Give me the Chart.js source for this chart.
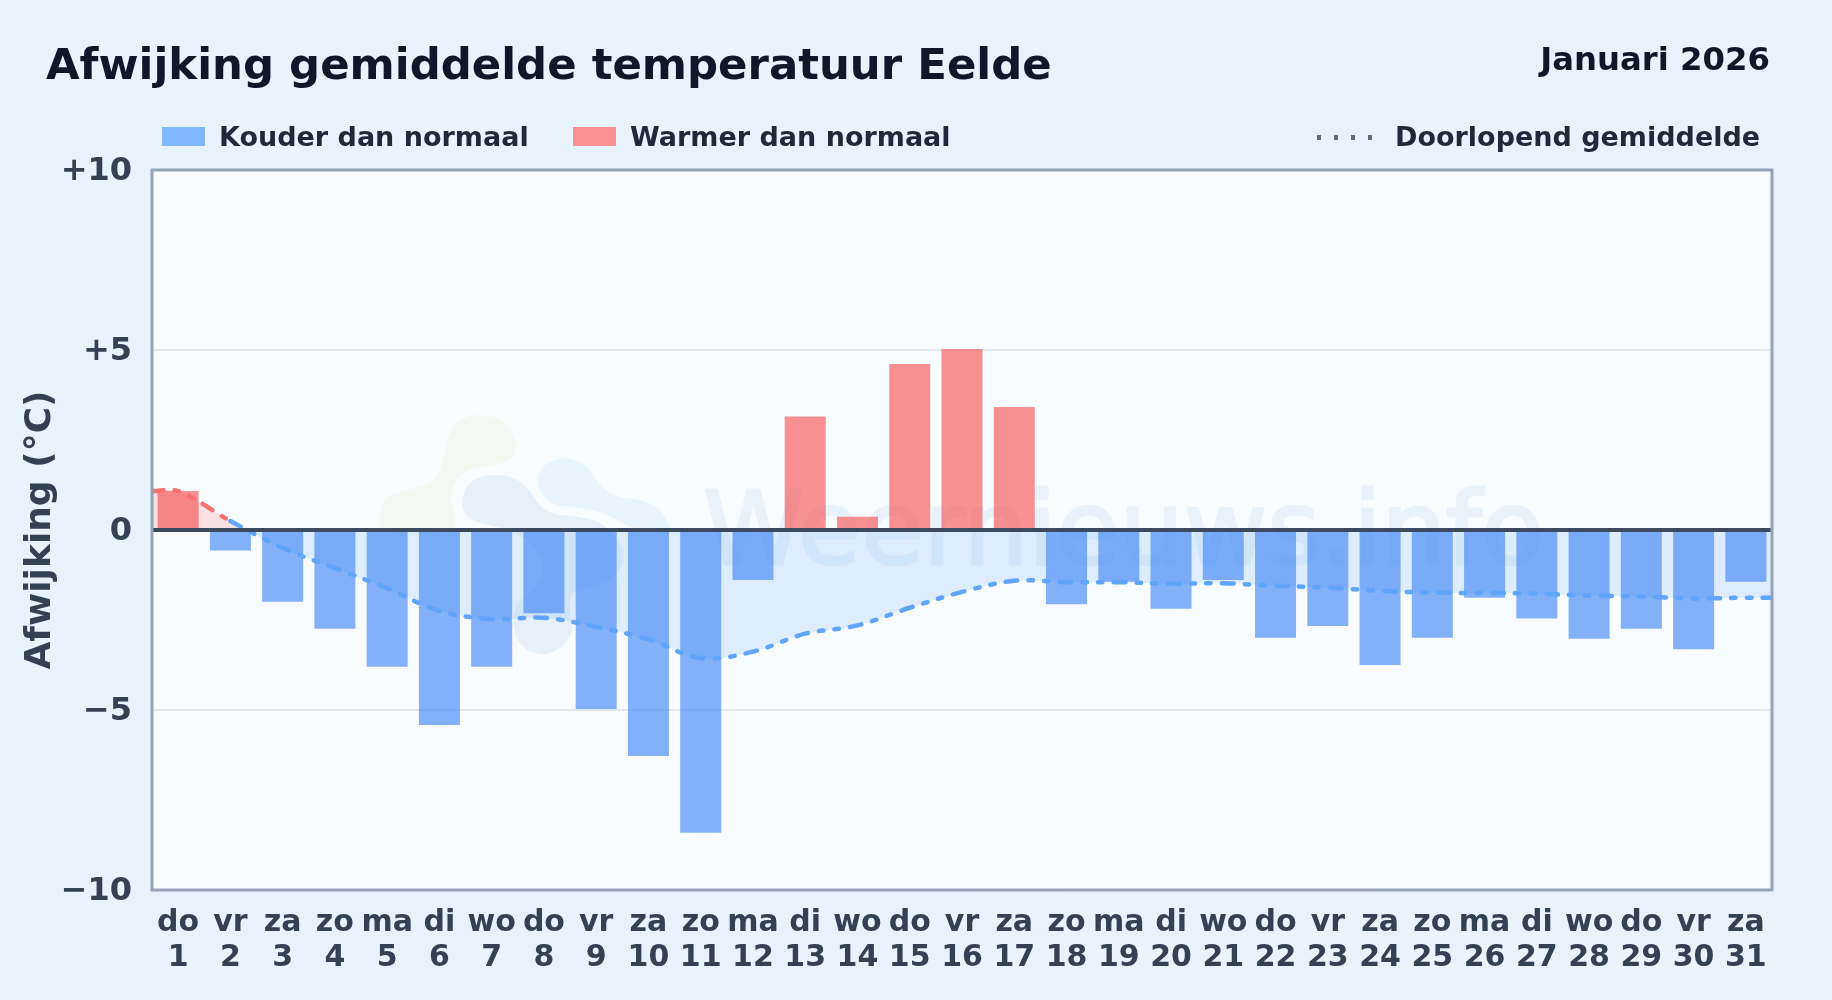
<!DOCTYPE html>
<html lang="nl">
<head>
<meta charset="utf-8">
<title>Afwijking gemiddelde temperatuur Eelde</title>
<script src="https://cdn.jsdelivr.net/npm/chart.js@4/dist/chart.umd.min.js"></script>
<style>
    html, body { margin: 0; padding: 0; }
    body {
        width: 1832px; height: 1000px; overflow: hidden; position: relative;
        background: linear-gradient(135deg, #e8f4fd 0%, #e7f2fc 50%, #eaf3fc 100%);
        font-family: "DejaVu Sans", sans-serif; font-weight: bold;
    }
    canvas { position: absolute; left: 0; top: 0; }
    .txt { position: absolute; white-space: nowrap; line-height: 1; }
    #title { left: 46px; top: 43px; font-size: 43.4px; color: #0f172a; }
    #month { right: 62px; top: 43px; font-size: 32.3px; color: #0f172a; }
    .leg { top: 123px; font-size: 27px; color: #1e293b; }
    .swatch { position: absolute; top: 127px; height: 19px; width: 43px; }
    #dots { position: absolute; left: 1317px; top: 135px; width: 58px; height: 4.5px;
        background: repeating-linear-gradient(90deg, #5b6b82 0 4px, transparent 4px 17px); }
</style>
</head>
<body>
<canvas id="graph" width="1832" height="1000"></canvas>
<div class="txt" id="title">Afwijking gemiddelde temperatuur Eelde</div>
<div class="txt" id="month">Januari 2026</div>
<div class="swatch" style="left:162px;background:#80b6fb"></div>
<div class="txt leg" style="left:219px">Kouder dan normaal</div>
<div class="swatch" style="left:573px;background:#f99192"></div>
<div class="txt leg" style="left:630px">Warmer dan normaal</div>
<div id="dots"></div>
<div class="txt leg" style="left:1395px">Doorlopend gemiddelde</div>
<script>
const WEEKDAYS = ['do','vr','za','zo','ma','di','wo','do','vr','za','zo','ma','di','wo','do','vr','za','zo','ma','di','wo','do','vr','za','zo','ma','di','wo','do','vr','za'];
const DAYS = [1,2,3,4,5,6,7,8,9,10,11,12,13,14,15,16,17,18,19,20,21,22,23,24,25,26,27,28,29,30,31];
const DEVIATION = [1.08,-0.57,-1.99,-2.74,-3.80,-5.42,-3.80,-2.31,-4.97,-6.28,-8.41,-1.39,3.15,0.37,4.61,5.03,3.42,-2.06,-1.44,-2.19,-1.39,-2.99,-2.67,-3.75,-2.99,-1.88,-2.46,-3.02,-2.74,-3.31,-1.44];
// running mean, with one extra point on each side so it reaches the plot edges
const AVG_X = [0.5,1,2,3,4,5,6,7,8,9,10,11,12,13,14,15,16,17,18,19,20,21,22,23,24,25,26,27,28,29,30,31,31.5];
const AVG_Y = [1.08,1.08,0.25,-0.50,-1.06,-1.62,-2.25,-2.47,-2.44,-2.69,-3.04,-3.56,-3.38,-2.88,-2.65,-2.16,-1.72,-1.41,-1.45,-1.45,-1.49,-1.48,-1.55,-1.60,-1.69,-1.74,-1.75,-1.77,-1.82,-1.85,-1.90,-1.88,-1.88];
const Y_TICKS = { '10': '+10', '5': '+5', '0': '0', '-5': '\u22125', '-10': '\u221210' };

const BLUE = 'rgba(59,130,246,0.62)';
const RED = 'rgba(246,72,72,0.6)';

// logo outlines, in pixels of a crop that starts at (360,390) and is 3x enlarged
const LOGO_GREEN = [[265,130],[300,85],[370,70],[440,95],[472,160],[460,210],[400,225],[330,235],[285,265],[268,330],[290,380],[280,430],[60,440],[60,360],[80,315],[200,285],[240,255]];
const LOGO_GREY = [[305,320],[330,270],[400,250],[470,265],[510,300],[535,345],[580,375],[650,378],[720,395],[770,440],[795,490],[775,560],[700,590],[640,600],[625,640],[645,720],[600,780],[540,798],[480,770],[455,700],[470,640],[520,600],[560,540],[520,460],[440,415],[350,400],[310,370]];
const LOGO_BLUE = [[530,260],[560,215],[620,200],[680,225],[710,275],[760,320],[840,328],[900,355],[930,410],[930,440],[800,410],[740,370],[650,352],[580,345],[540,310]];

function blob(ctx, color, outline) {
    const pts = outline.map(([x, y]) => [360 + x / 3, 390 + y / 3]);
    const mid = (a, b) => [(a[0] + b[0]) / 2, (a[1] + b[1]) / 2];
    ctx.fillStyle = color;
    ctx.beginPath();
    const start = mid(pts[pts.length - 1], pts[0]);
    ctx.moveTo(start[0], start[1]);
    pts.forEach((p, i) => {
        const m = mid(p, pts[(i + 1) % pts.length]);
        ctx.quadraticCurveTo(p[0], p[1], m[0], m[1]);
    });
    ctx.closePath();
    ctx.fill();
}

const plotBackground = {
    id: 'plotBackground',
    beforeDraw(chart) {
        const { ctx, chartArea: a } = chart;
        ctx.save();
        ctx.fillStyle = '#f8fcff';
        ctx.fillRect(a.left, a.top, a.width, a.height);
        // faint site logo and name behind the chart
        blob(ctx, '#f3f9f1', LOGO_GREEN);
        blob(ctx, '#e8f5fe', LOGO_BLUE);
        blob(ctx, '#e7f0f9', LOGO_GREY);
        ctx.fillStyle = '#e9f2fb';
        ctx.strokeStyle = '#e9f2fb';
        ctx.lineWidth = 3;
        ctx.lineJoin = 'round';
        ctx.font = '102px "DejaVu Sans"';
        ctx.textBaseline = 'alphabetic';
        ctx.strokeText('Weernieuws.info', 703, 564);
        ctx.fillText('Weernieuws.info', 703, 564);
        ctx.restore();
    }
};

const frame = {
    id: 'frame',
    afterDatasetsDraw(chart) {
        const { ctx, chartArea: a, scales } = chart;
        const zero = scales.y.getPixelForValue(0);
        ctx.save();
        ctx.strokeStyle = '#3b4a5f';
        ctx.lineWidth = 4;
        ctx.beginPath();
        ctx.moveTo(a.left, zero);
        ctx.lineTo(a.right, zero);
        ctx.stroke();
        ctx.strokeStyle = '#94a3b8';
        ctx.lineWidth = 3;
        ctx.strokeRect(a.left, a.top, a.width, a.height);
        ctx.restore();
    }
};

new Chart(document.getElementById('graph').getContext('2d'), {
    data: {
        datasets: [
            {
                type: 'line',
                order: 0,
                data: AVG_X.map((x, i) => ({ x, y: AVG_Y[i] })),
                borderColor: '#60a5fa',
                borderWidth: 4.5,
                borderDash: [11.5, 11.2, 4.5, 11.2, 4.5, 11.2],
                borderCapStyle: 'round',
                pointRadius: 0,
                tension: 0.35,
                fill: { target: { value: 0 }, above: 'rgba(248,113,113,0.2)', below: 'rgba(96,165,250,0.17)' },
                segment: { borderColor: c => c.p1DataIndex <= 2 ? '#f87171' : '#60a5fa' }
            },
            {
                type: 'bar',
                order: 1,
                data: DAYS.map((d, i) => ({ x: d, y: DEVIATION[i] })),
                backgroundColor: DEVIATION.map(v => v < 0 ? BLUE : RED),
                barPercentage: 0.785,
                categoryPercentage: 1
            }
        ]
    },
    plugins: [plotBackground, frame],
    options: {
        responsive: false,
        animation: false,
        layout: { padding: { left: 0, right: 60, top: 170, bottom: 0 } },
        plugins: {
            legend: { display: false },
            title: { display: false },
            tooltip: { enabled: false },
            filler: { drawTime: 'beforeDatasetsDraw' }
        },
        scales: {
            x: {
                type: 'linear',
                min: 0.5,
                max: 31.5,
                offset: false,
                bounds: 'data',
                grid: { display: false },
                border: { display: false },
                afterFit: s => { s.height = 110; },
                afterBuildTicks: s => {
                    s.ticks = DAYS.map(value => ({ value }));
                },
                ticks: {
                    color: '#334155',
                    font: { family: 'DejaVu Sans', size: 30, weight: 'bold', lineHeight: 1.17 },
                    padding: 8,
                    maxRotation: 0,
                    autoSkip: false,
                    callback: v => [WEEKDAYS[v - 1], String(v)]
                }
            },
            y: {
                min: -10,
                max: 10,
                afterFit: s => { s.width = 152; },
                grid: { color: '#e2e8f0', lineWidth: 2, drawTicks: false },
                border: { display: false },
                title: { display: true, text: 'Afwijking (\u00b0C)', color: '#334155', font: { family: 'DejaVu Sans', size: 36, weight: 'bold' }, padding: { top: 19, bottom: 0 } },
                ticks: {
                    stepSize: 5,
                    padding: 20,
                    labelOffset: 2,
                    color: '#334155',
                    font: { family: 'DejaVu Sans', size: 32, weight: 'bold' },
                    callback: v => Y_TICKS[v]
                }
            }
        }
    }
});
</script>
</body>
</html>
